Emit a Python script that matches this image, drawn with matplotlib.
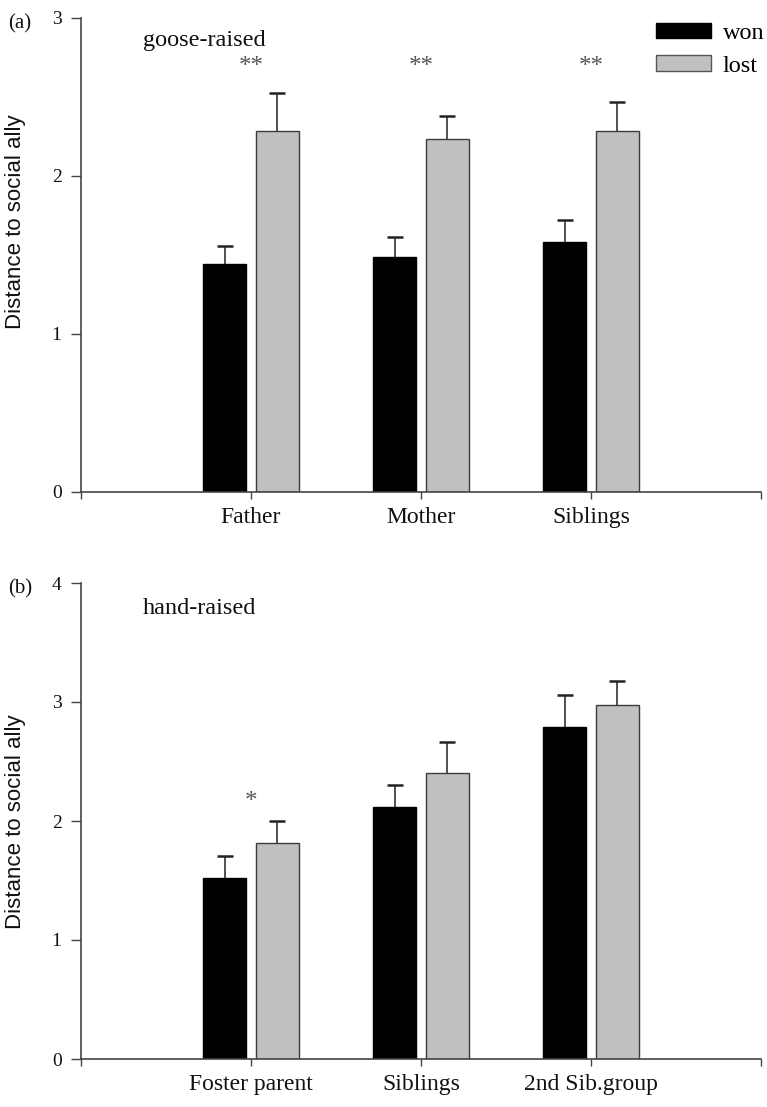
import numpy as np
import matplotlib
matplotlib.use("Agg")
import matplotlib.pyplot as plt
from matplotlib.patches import Patch

# valeurs
cats_a = ["Father", "Mother", "Siblings"]
won_a = [1.44, 1.49, 1.58]
won_a_top = [1.56, 1.615, 1.72]
lost_a = [2.285, 2.235, 2.285]
lost_a_top = [2.525, 2.38, 2.47]
stars_a = ["**", "**", "**"]

cats_b = ["Foster parent", "Siblings", "2nd Sib.group"]
won_b = [1.52, 2.12, 2.79]
won_b_top = [1.71, 2.30, 3.06]
lost_b = [1.815, 2.40, 2.975]
lost_b_top = [2.0, 2.665, 3.18]
stars_b = ["*", "", ""]

serif = "Liberation Serif"
sans = "Liberation Sans"
grey = "#c0c0c0"


def draw_panel(ax, cats, won, won_top, lost, lost_top, stars, star_y, ymax, note, note_y):
    x = np.arange(1, len(cats) + 1)
    w = 0.255
    off = 0.155
    ax.bar(x - off, won, w, color="black", edgecolor="black", linewidth=1, zorder=2)
    ax.bar(x + off, lost, w, color=grey, edgecolor="#3c3c3c", linewidth=1, zorder=2)
    for xs, mean, top in ((x - off, won, won_top), (x + off, lost, lost_top)):
        err = np.array(top) - np.array(mean)
        _, caps, _ = ax.errorbar(xs, mean, yerr=[np.zeros(len(err)), err], fmt="none",
                                 ecolor="#222", elinewidth=1.1, capsize=6, capthick=1.8, zorder=1)
        caps[0].set_visible(False)
    for xi, s in zip(x, stars):
        if s:
            ax.text(xi, star_y, s, ha="center", va="center", fontsize=18,
                    family=serif, color="#555")
    ax.text(0.365, note_y, note, ha="left", va="baseline", fontsize=17.5,
            family=serif, color="#111")

    ax.set_xlim(0, 4)
    ax.set_ylim(0, ymax)
    ax.set_xticks([0, 1, 2, 3, 4])
    ax.set_xticklabels([""] + cats + [""], family=serif)
    ax.set_yticks(range(ymax + 1))
    ax.set_yticklabels([str(v) for v in range(ymax + 1)], family=serif)
    for side in ("top", "right"):
        ax.spines[side].set_visible(False)
    for side in ("left", "bottom"):
        ax.spines[side].set_color("#444")
        ax.spines[side].set_linewidth(1.2)
    ax.tick_params(axis="x", length=5, width=1, color="#444", labelcolor="#111",
                   labelsize=17, pad=6)
    ax.tick_params(axis="y", length=7, width=1, color="#444", labelcolor="#111",
                   labelsize=14, pad=7)


fig = plt.figure(figsize=(7.67, 11.07), dpi=100)
W, H = 767, 1107
ax1 = fig.add_axes([81 / W, 1 - 492 / H, 680 / W, (492 - 18) / H])
ax2 = fig.add_axes([81 / W, 1 - 1059 / H, 680 / W, (1059 - 583) / H])

draw_panel(ax1, cats_a, won_a, won_a_top, lost_a, lost_a_top, stars_a, 2.69, 3,
           "goose-raised", 2.82)
draw_panel(ax2, cats_b, won_b, won_b_top, lost_b, lost_b_top, stars_b, 2.16, 4,
           "hand-raised", 3.74)

handles = [Patch(facecolor="black", edgecolor="black"),
           Patch(facecolor=grey, edgecolor="#555")]
ax1.legend(handles, ["won", "lost"], loc="upper left", bbox_to_anchor=(0.845, 0.99),
           frameon=False, borderpad=0, borderaxespad=0, handlelength=2.26,
           handleheight=0.62, handletextpad=0.5, labelspacing=0.45,
           prop={"family": serif, "size": 17.5})

fig.text(8 / W, 1 - 24 / H, "(a)", ha="left", va="center", fontsize=15, family=serif, color="#111")
fig.text(8 / W, 1 - 589 / H, "(b)", ha="left", va="center", fontsize=15, family=serif, color="#111")
fig.text(16 / W, 1 - 222 / H, "Distance to social ally", rotation=90, ha="center", va="center",
         fontsize=16, family=sans, color="#111")
fig.text(16 / W, 1 - 822 / H, "Distance to social ally", rotation=90, ha="center", va="center",
         fontsize=16, family=sans, color="#111")

fig.savefig("out.png", dpi=100)
